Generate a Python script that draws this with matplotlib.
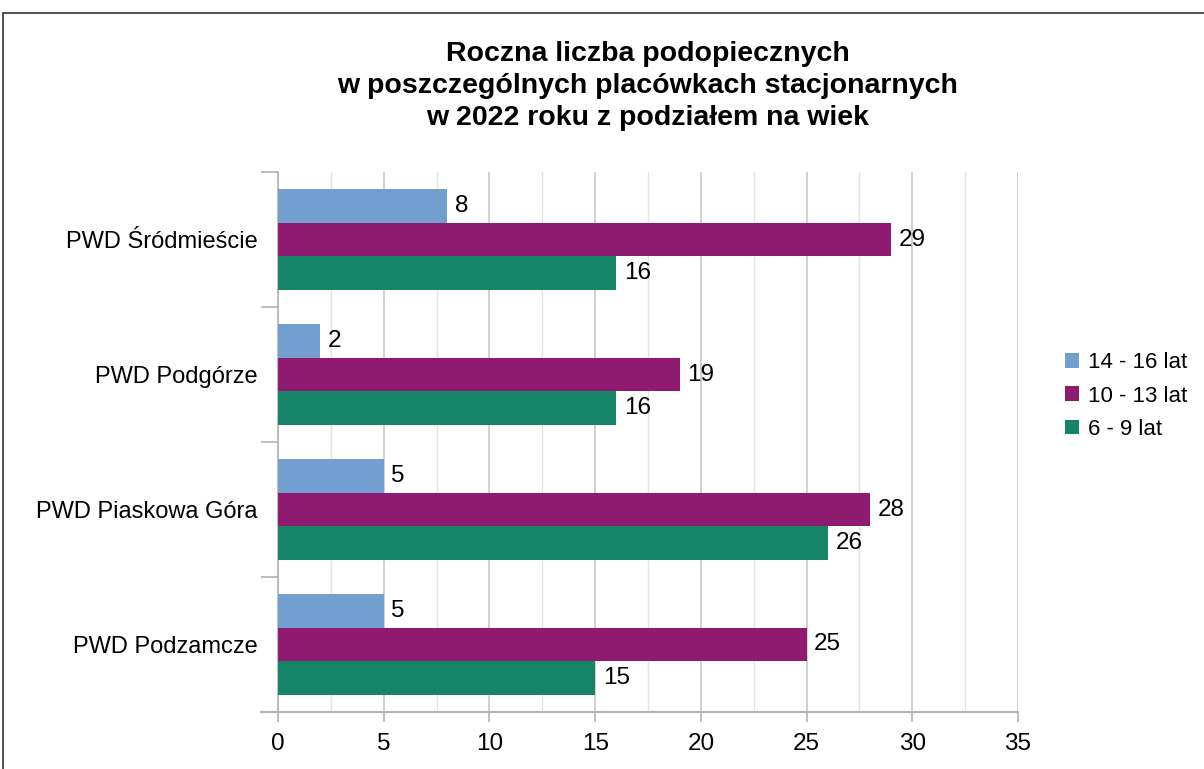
import matplotlib
matplotlib.use("Agg")
import matplotlib.pyplot as plt
from matplotlib.patches import Rectangle
import numpy as np

categories = ["PWD Śródmieście", "PWD Podgórze", "PWD Piaskowa Góra", "PWD Podzamcze"]
series_names = ["14 - 16 lat", "10 - 13 lat", "6 - 9 lat"]
v_14_16 = [8, 2, 5, 5]
v_10_13 = [29, 19, 28, 25]
v_6_9 = [16, 16, 26, 15]
colors = ["#729fcf", "#8e1b70", "#168567"]
title = "Roczna liczba podopiecznych\nw poszczególnych placówkach stacjonarnych\nw 2022 roku z podziałem na wiek"

plt.rcParams['font.family'] = ['Liberation Sans', 'DejaVu Sans']

fig = plt.figure(figsize=(12.04, 7.69), dpi=100)
ax = fig.add_axes([278/1204, 1-712/769, (1018-278)/1204, (712-172)/769])

n = len(categories)
pos = np.arange(n)
bh = 0.25
series = [v_14_16, v_10_13, v_6_9]
for i, (vals, col, name) in enumerate(zip(series, colors, series_names)):
    y = pos - 0.375 + bh/2 + i*bh + 0.5
    ax.barh(y, vals, height=bh, color=col, label=name, zorder=3)
    for yy, v in zip(y, vals):
        ax.annotate(str(v), xy=(v, yy), xytext=(5.5, 0), textcoords='offset points',
                    va='center', ha='left', fontsize=17.5, color='black', zorder=4)

ax.set_ylim(n, 0)
ax.set_xlim(0, 35)
ax.set_yticks(np.arange(n+1))
ax.set_yticklabels([])
ax.set_yticks(pos + 0.5, minor=True)
ax.set_yticklabels(categories, minor=True, fontsize=17)
ax.tick_params(axis='y', which='minor', length=0, pad=14.4)
ax.tick_params(axis='y', which='major', length=12, color='#b3b3b3', width=1.2)

ax.set_xticks(np.arange(0, 36, 5))
ax.set_xticks(np.arange(0, 36, 2.5), minor=True)
ax.tick_params(axis='x', which='major', length=7, color='#b3b3b3', width=1.2, labelsize=17.5, pad=8)
ax.tick_params(axis='x', which='minor', length=0)
ax.grid(axis='x', which='major', color='#c8c8c8', linewidth=1.2, zorder=0)
ax.grid(axis='x', which='minor', color='#e3e3e3', linewidth=1.0, zorder=0)

for s in ['top', 'right']:
    ax.spines[s].set_visible(False)
ax.spines['left'].set_color('#b3b3b3')
ax.spines['bottom'].set_color('#b3b3b3')
ax.spines['left'].set_linewidth(1.2)
ax.spines['bottom'].set_linewidth(1.5)
ax.spines['bottom'].set_bounds(-0.8, 35)
ax.spines['bottom'].set_clip_on(False)

fig.text(647.5/1204, 1-41/769, title, ha='center', va='top', fontsize=20.5, fontweight='bold', linespacing=1.3)

fig.legend(loc='center left', bbox_to_anchor=(1045/1204, 1-396/769), frameon=False,
           fontsize=16, handlelength=0.63, handleheight=0.63, handletextpad=0.4, labelspacing=0.55)

fig.patches.append(Rectangle((3/1204, -0.05), 1.1, 1.05 - 13/769, transform=fig.transFigure,
                             fill=False, edgecolor='#333333', linewidth=1.2))

fig.savefig("out.png", dpi=100)
